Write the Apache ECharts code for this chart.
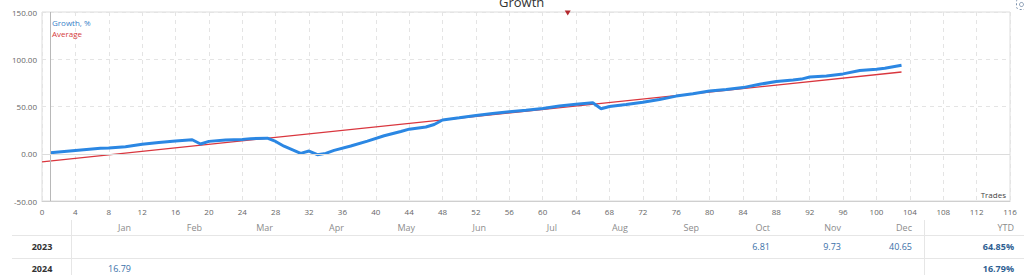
<!DOCTYPE html>
<html><head><meta charset="utf-8">
<script src="https://cdn.jsdelivr.net/npm/echarts@6/dist/echarts.min.js"></script>
<style>
html,body{margin:0;padding:0;background:#fff;}
#wrap{position:relative;width:1024px;height:275px;overflow:hidden;font-family:"Open Sans","DejaVu Sans",sans-serif;}
#chart{position:absolute;left:0;top:0;width:1024px;height:275px;}
#tbl{position:absolute;left:0;top:0;width:1024px;height:275px;pointer-events:none;}
.c{position:absolute;font-size:9px;white-space:nowrap;}
.hl{position:absolute;height:1px;background:#e6e6e6;}
.vl{position:absolute;width:1px;background:#e6e6e6;}
</style></head>
<body><div id="wrap"><div id="chart"></div><div id="tbl"></div></div>
<script>
// ---- data ----
var xTicksMin = 0, xTicksMax = 116, xTickStep = 4;
var yTicksMin = -50, yTicksMax = 150, yTickStep = 50;
var growthTrades = [1,4,7,8,10,12,14,16,18,19,20,22,24,25,27,28,29,31,32,33,34,35,37,39,41,43,44,46,47,48,50,52,54,56,58,60,62,64,66,67,68,70,72,74,76,78,80,82,84,86,88,90,91,92,94,96,98,100,101,103];
var growthValues = [1.0,3.5,5.7,6.0,7.5,10.0,12.0,13.5,14.8,10.3,13.1,14.5,15.2,16.0,16.5,13.0,8.0,0.4,2.9,-1.0,0.4,3.6,8.2,13.4,19.0,23.5,26.0,28.3,31.0,35.7,38.0,40.5,42.5,44.5,46.0,48.0,50.5,52.5,54.0,47.7,50.0,52.0,54.5,57.5,61.0,63.5,66.4,68.0,70.0,73.5,76.5,78.0,79.0,81.2,82.3,84.5,88.0,89.5,90.4,93.6];
var averageTrades = [0,103];
var averageValues = [-8.5,86.5];
var startMarkTrade = 1;
var flagTrade = 63;
var months = ['Jan','Feb','Mar','Apr','May','Jun','Jul','Aug','Sep','Oct','Nov','Dec'];
var years = ['2023','2024'];
var values2023 = [null,null,null,null,null,null,null,null,null,'6.81','9.73','40.65'];
var values2024 = ['16.79',null,null,null,null,null,null,null,null,null,null,null];
var ytd = ['64.85%','16.79%'];

function pairs(xs, ys){ return xs.map(function(x,i){return [x, ys[i]];}); }

var chart = echarts.init(document.getElementById('chart'), null, {renderer:'svg'});
var font = '"Open Sans","DejaVu Sans",sans-serif';
chart.setOption({
  animation:false,
  title:{text:'Growth', left:494, top:-10, textStyle:{fontSize:13, fontWeight:'normal', color:'#333', fontFamily:font}},
  legend:{orient:'vertical', left:42, top:13, itemWidth:0, itemHeight:0, itemGap:3, icon:'none',
    data:[{name:'Growth, %', textStyle:{color:'#3a7fc8'}},{name:'Average', textStyle:{color:'#d63a3a'}}],
    textStyle:{fontSize:8, fontFamily:font, padding:0}},
  grid:{left:42, right:14, top:12, height:189, show:true, borderColor:'#dcdcdc', borderWidth:1},
  graphic:[
    {type:'rect', left:1014, top:-4, shape:{width:12, height:11, r:3}, style:{fill:'none', stroke:'#7e93ad', lineWidth:1, lineDash:[2,2]}},
    {type:'circle', left:1017, top:0, shape:{r:2}, style:{fill:'none', stroke:'#7e93ad', lineWidth:1}}
  ],
  xAxis:{type:'value', min:xTicksMin, max:xTicksMax, interval:xTickStep,
    name:'Trades', nameLocation:'end', nameGap:-4,
    nameTextStyle:{align:'right', verticalAlign:'bottom', padding:[0,0,3,0], fontSize:8, color:'#444', fontFamily:font},
    axisLine:{show:true, onZero:false, lineStyle:{color:'#cfcfcf'}}, axisTick:{show:false},
    axisLabel:{fontSize:8, color:'#666', margin:6, fontFamily:font},
    splitLine:{show:true, lineStyle:{color:'#e4e4e4', type:[4,4]}}},
  yAxis:{type:'value', min:yTicksMin, max:yTicksMax, interval:yTickStep,
    axisLine:{show:false}, axisTick:{show:false},
    axisLabel:{fontSize:8, color:'#666', margin:5, fontFamily:font, formatter:function(v){return v.toFixed(2);}},
    splitLine:{show:true, lineStyle:{color:'#e4e4e4', type:[4,4]}}},
  series:[
    {name:'Growth, %', type:'line', data:pairs(growthTrades, growthValues), showSymbol:false, symbol:'none',
      lineStyle:{color:'#2b87e3', width:3}, itemStyle:{color:'#2b87e3'}, z:3,
      markLine:{silent:true, symbol:'none', label:{show:false},
        data:[{xAxis:startMarkTrade, lineStyle:{color:'#b8b8b8', width:1, type:'solid'}},
              {yAxis:0, lineStyle:{color:'#dcdcdc', width:1, type:'solid'}}]},
      markPoint:{silent:true, symbol:'triangle', symbolSize:[6,5], symbolRotate:180, symbolOffset:[0,1],
        label:{show:false}, itemStyle:{color:'#b3282d'},
        data:[{coord:[flagTrade, yTicksMax]}]}},
    {name:'Average', type:'line', data:pairs(averageTrades, averageValues), showSymbol:false, symbol:'none',
      lineStyle:{color:'#d9363e', width:1.3}, itemStyle:{color:'#d9363e'}, z:2}
  ]
});

// ---- table ----
var tbl = document.getElementById('tbl');
function add(cls, css, txt){ var d=document.createElement('div'); d.className=cls; d.style.cssText=css; if(txt!=null) d.textContent=txt; tbl.appendChild(d); return d; }
var colL = 72, colW = 71, ytdL = 925, ytdR = 1024, pad = 12;
var rowCenters = [228, 247, 269];
add('hl','left:12px;top:235px;width:1012px;');
add('hl','left:12px;top:258px;width:1012px;');
add('vl','left:71px;top:220px;height:60px;');
add('vl','left:924px;top:220px;height:60px;');
months.forEach(function(m,i){
  add('c','right:'+(1024-(colL+colW*(i+1)-pad))+'px;top:'+(rowCenters[0]-7)+'px;color:#8c8c8c;', m);
});
add('c','right:'+(1024-(ytdR-pad+2))+'px;top:'+(rowCenters[0]-7)+'px;color:#8c8c8c;', 'YTD');
[values2023, values2024].forEach(function(vals, r){
  var cy = rowCenters[r+1];
  add('c','left:12px;width:60px;text-align:center;top:'+(cy-7)+'px;color:#333;font-weight:bold;', years[r]);
  vals.forEach(function(v,i){
    if(v==null) return;
    add('c','right:'+(1024-(colL+colW*(i+1)-pad))+'px;top:'+(cy-7)+'px;color:#3a6fa8;', v);
  });
  add('c','right:'+(1024-(ytdR-pad+2))+'px;top:'+(cy-7)+'px;color:#2f5f93;font-weight:bold;', ytd[r]);
});
</script></body></html>
